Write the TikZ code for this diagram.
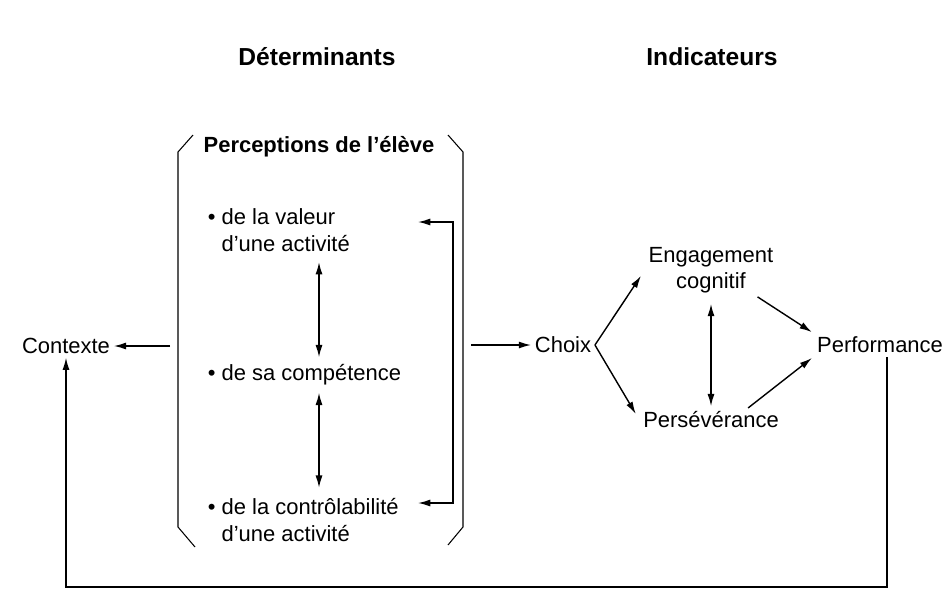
\documentclass[tikz,border=0pt]{standalone}
\usepackage{fontspec}
\setmainfont{Liberation Sans}
\usetikzlibrary{arrows.meta}
\tikzset{
    txt/.style={inner sep=2pt, font=\fontsize{12.5}{15}\selectfont},
    head/.style={inner sep=2pt, font=\fontsize{14}{16}\selectfont\bfseries},
    conn/.style={line width=0.8pt, >={Latex[length=7pt,width=4pt]}},
}
\begin{document}
\begin{tikzpicture}[x=0.02cm, y=-0.02cm]
    \useasboundingbox (0,0) rectangle (949,602);
    % titles
    \node[head] (det) at (317,57) {Déterminants};
    \node[head] (ind) at (712,57) {Indicateurs};
    % brackets
    \draw[line width=0.6pt] (193,135) -- (178,152) -- (178,527) -- (195,547);
    \draw[line width=0.6pt] (448,135) -- (463,152) -- (463,527) -- (448,545);
    \node[txt, font=\fontsize{12.5}{15}\selectfont\bfseries] (perc) at (319,147) {Perceptions de l'élève};
    % perceptions
    \node[txt, anchor=west, align=left] (valeur) at (204,230)
        {\textbullet\ de la valeur\\\hphantom{\textbullet\ }d'une activité};
    \node[txt, anchor=west, align=left] (comp) at (204,375)
        {\textbullet\ de sa compétence};
    \node[txt, anchor=west, align=left] (ctrl) at (204,520)
        {\textbullet\ de la contrôlabilité\\\hphantom{\textbullet\ }d'une activité};
    \draw[conn, <->, shorten <=4pt, shorten >=2pt] (valeur.south -| perc) -- (comp.north -| perc);
    \draw[conn, <->, shorten <=2pt, shorten >=4pt] (comp.south -| perc) -- (ctrl.north -| perc);
    \coordinate (vtip) at (418,222);
    \coordinate (ctip) at (418,503);
    \draw[conn, <->] (vtip) -- ++(35,0) |- (ctip);
    % left and right of the brackets
    \node[txt] (ctx) at (66,346) {Contexte};
    \coordinate (lbr) at (170,346);
    \draw[conn, ->] (lbr) -- (ctx.east);
    \node[txt] (choix) at (563,345) {Choix};
    \coordinate (rbr) at (471,345);
    \draw[conn, ->] (rbr) -- (choix.west);
    % indicators
    \node[txt, align=center] (eng) at (711,270) {Engagement\\cognitif};
    \node[txt] (pers) at (711,420) {Persévérance};
    \node[txt] (perf) at (880,345) {Performance};
    \draw[conn, ->, shorten >=4pt] (choix.east) -- (eng.west);
    \draw[conn, ->, shorten >=4pt] (choix.east) -- (pers.west);
    \draw[conn, <->, shorten <=4pt, shorten >=1pt] (eng.south) -- (pers.north);
    \draw[conn, ->, shorten >=1pt] (eng.-30) -- (perf.north west);
    \draw[conn, ->, shorten >=1pt] (pers.18) -- (perf.south west);
    % feedback
    \coordinate (fb) at (887,587);
    \draw[conn, ->] (perf.south -| fb) -- (fb) -| (ctx.south);
\end{tikzpicture}
\end{document}
